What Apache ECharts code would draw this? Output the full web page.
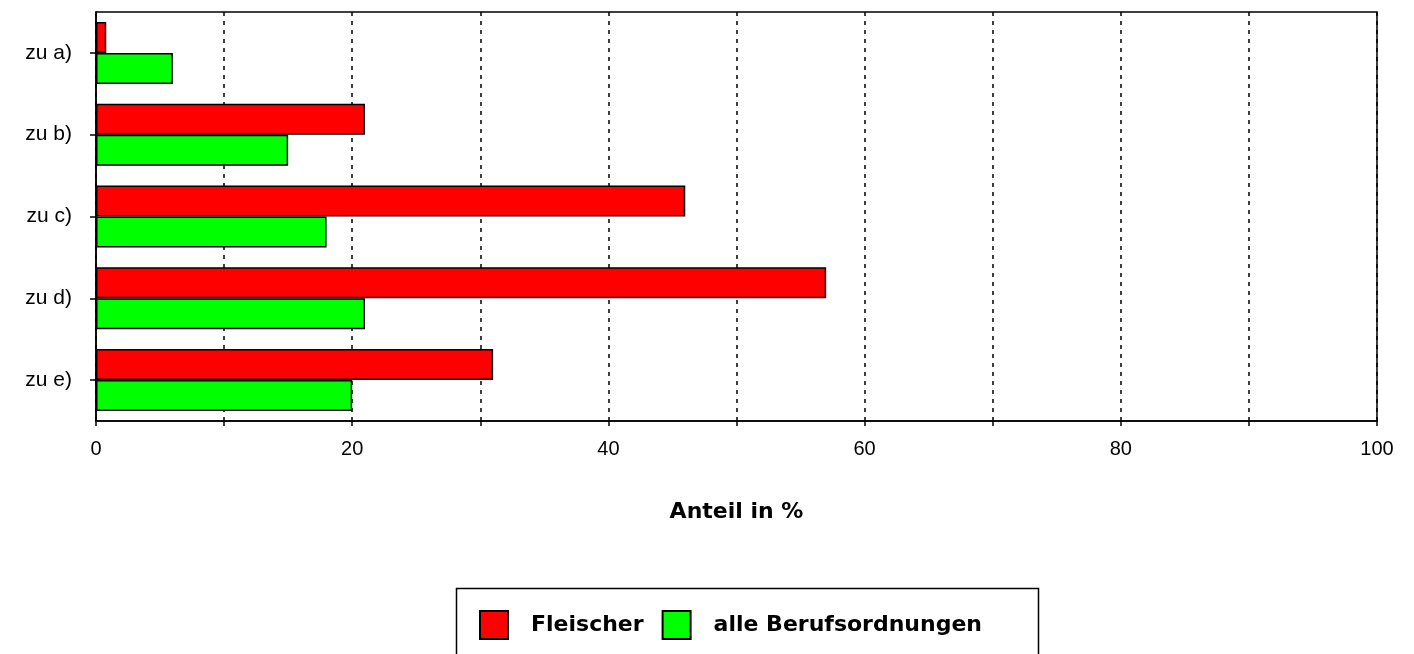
<!DOCTYPE html>
<html>
<head>
<meta charset="utf-8">
<script src="https://cdn.jsdelivr.net/npm/echarts@6/dist/echarts.min.js"></script>
<style>html,body{margin:0;padding:0;background:#fff}#c{width:1414px;height:654px}</style>
</head>
<body>
<div id="c"></div>
<script>
const categories = ["zu a)", "zu b)", "zu c)", "zu d)", "zu e)"];
const fleischer = [0.8, 21, 46, 57, 31];
const alleBerufe = [6, 15, 18, 21, 20];
const seriesNames = ["Fleischer", "alle Berufsordnungen"];
const xTicks = [0, 10, 20, 30, 40, 50, 60, 70, 80, 90, 100];
const axisTitle = "Anteil in %";

const chart = echarts.init(document.getElementById('c'), null, {renderer: 'canvas'});
const font = 'Liberation Sans, Arial, sans-serif';
const boldFont = 'DejaVu Sans, sans-serif';
chart.setOption({
  animation: false,
  backgroundColor: '#fff',
  grid: {left: 96, right: 37, top: 12, bottom: 233, show: true, borderColor: '#000', borderWidth: 1.5, backgroundColor: 'transparent'},
  xAxis: {
    type: 'value', min: xTicks[0], max: xTicks[xTicks.length - 1], interval: 10,
    axisLine: {show: true, lineStyle: {color: '#000', width: 1.5}},
    axisTick: {show: true, length: 5, lineStyle: {color: '#000', width: 1.5}},
    axisLabel: {color: '#000', fontFamily: font, fontSize: 20, margin: 18,
      formatter: v => (v % 20 === 0 ? String(v) : '')},
    splitLine: {show: true, lineStyle: {color: '#000', type: [4, 5], width: 1.5}},
    name: axisTitle, nameLocation: 'middle', nameGap: 80,
    nameTextStyle: {color: '#000', fontFamily: boldFont, fontWeight: 'bold', fontSize: 22}
  },
  yAxis: {
    type: 'category', data: categories, inverse: true,
    axisLine: {show: true, lineStyle: {color: '#000', width: 1.5}},
    axisTick: {show: true, alignWithLabel: true, length: 6, lineStyle: {color: '#000', width: 1.5}},
    axisLabel: {color: '#000', fontFamily: font, fontSize: 21, margin: 24},
    splitLine: {show: false}
  },
  legend: {
    left: 474, top: 605, itemWidth: 28, itemHeight: 28, itemGap: 18,
    icon: 'rect',
    textStyle: {color: '#000', fontFamily: boldFont, fontWeight: 'bold', fontSize: 22, padding: [0, 0, 0, 18]},
    data: seriesNames
  },
  graphic: [{
    type: 'rect', left: 454, top: 586,
    shape: {width: 582, height: 90},
    style: {fill: 'none', stroke: '#000', lineWidth: 1.5}, silent: true
  }],
  series: [
    {name: seriesNames[0], type: 'bar', data: fleischer, barWidth: 31, barGap: '0%',
     itemStyle: {color: '#ff0000', borderColor: '#000', borderWidth: 1.5}},
    {name: seriesNames[1], type: 'bar', data: alleBerufe, barWidth: 31, barGap: '0%',
     itemStyle: {color: '#00ff00', borderColor: '#000', borderWidth: 1.5}}
  ]
});
</script>
</body>
</html>
